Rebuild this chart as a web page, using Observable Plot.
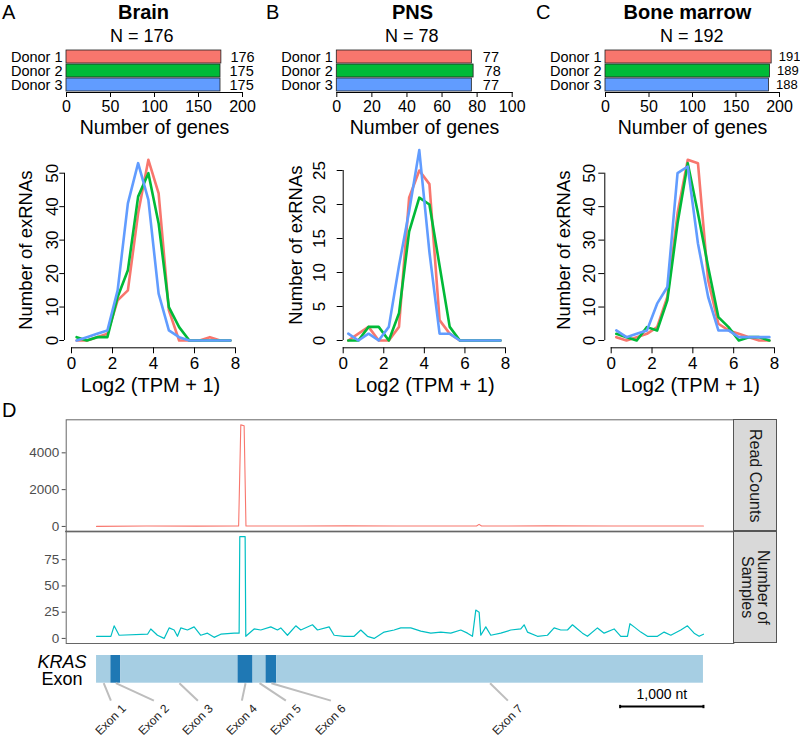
<!DOCTYPE html>
<html><head><meta charset="utf-8">
<script src="https://cdn.jsdelivr.net/npm/d3@7"></script>
<script src="https://cdn.jsdelivr.net/npm/@observablehq/plot@0.6"></script>
<style>
body{margin:0;background:#fff;font-family:"Liberation Sans",Arial,sans-serif;}
#fig{position:relative;width:800px;height:736px;overflow:hidden;background:#fff;}
.abs{position:absolute;}
.lbl{position:absolute;white-space:nowrap;color:#000;}
.strip{position:absolute;box-sizing:border-box;border:1px solid #555;background:#D9D9D9;display:flex;align-items:center;justify-content:center;writing-mode:vertical-rl;font-size:16px;line-height:16px;color:#1a1a1a;text-align:center;}
</style></head><body><div id="fig"></div>
<script>
// ---------- data ----------
const donors = ["Donor 1", "Donor 2", "Donor 3"];
const donorColors = ["#F8766D", "#00BA38", "#619CFF"];
const panelLetters = ["A", "B", "C"];
const tissues = ["Brain", "PNS", "Bone marrow"];
const totalGenes = [176, 78, 192];
const brainGenes = [176, 175, 175];
const pnsGenes = [77, 78, 77];
const boneGenes = [191, 189, 188];
const barTicksBrain = [0, 50, 100, 150, 200];
const barTicksPNS = [0, 20, 40, 60, 80, 100];
const barTicksBone = [0, 50, 100, 150, 200];

const bins = [0.25, 0.75, 1.25, 1.75, 2.25, 2.75, 3.25, 3.75, 4.25, 4.75, 5.25, 5.75, 6.25, 6.75, 7.25, 7.75];
const brainD1 = [0, 0, 1, 2, 12, 15, 38, 54, 44, 9, 0, 0, 0, 1, 0, 0];
const brainD2 = [1, 0, 1, 1, 13, 21, 43, 50, 35, 10, 4, 0, 0, 0, 0, 0];
const brainD3 = [0, 1, 2, 3, 15, 41, 53, 42, 14, 3, 1, 0, 0, 0, 0, 0];
const pnsD1 = [0, 1, 2, 0, 0, 2, 21, 25, 23, 3, 1, 0, 0, 0, 0, 0];
const pnsD2 = [0, 0, 2, 2, 0, 4, 16, 21, 20, 11, 2, 0, 0, 0, 0, 0];
const pnsD3 = [1, 0, 1, 0, 2, 11, 19, 28, 13, 1, 1, 0, 0, 0, 0, 0];
const boneD1 = [1, 0, 1, 2, 4, 13, 38, 54, 53, 18, 5, 3, 2, 1, 0, 0];
const boneD2 = [2, 1, 0, 4, 3, 12, 35, 53, 38, 22, 7, 4, 0, 1, 1, 0];
const boneD3 = [3, 1, 2, 3, 11, 16, 50, 52, 29, 13, 3, 3, 1, 1, 1, 1];
const xTicksTPM = [0, 2, 4, 6, 8];
const yTicksBrain = [0, 10, 20, 30, 40, 50];
const yTicksPNS = [0, 5, 10, 15, 20, 25];
const yTicksBone = [0, 10, 20, 30, 40, 50];

// Panel D: KRAS coverage (position in nt)
const geneLength = 7283;
const readPos = [0, 600, 1200, 1705, 1731, 1771, 1793, 2400, 3000, 3600, 4560, 4590, 4620, 5400, 6200, 7283];
const readCount = [0, 20, 15, 25, 5520, 5470, 25, 20, 30, 25, 20, 110, 20, 30, 25, 20];
const readTicks = [0, 2000, 4000];
const samplePos = [0,172,211,271,612,651,731,811,871,931,971,1011,1091,1171,1251,1331,1411,1491,1651,1711,1719,1783,1791,1891,1971,2091,2171,2211,2291,2391,2451,2591,2651,2791,2851,2971,3091,3171,3251,3331,3451,3571,3651,3771,3891,4011,4131,4251,4371,4451,4511,4551,4591,4611,4671,4731,4851,4971,5091,5131,5171,5291,5411,5491,5571,5651,5711,5771,5831,5891,6011,6091,6211,6291,6371,6401,6451,6531,6611,6731,6811,6891,7011,7091,7171,7231,7283];
const sampleN = [2,2,12,3,4,9,3,0,10,8,2,10,8,11,3,5,1,4,5,5,97,97,2,9,8,11,8,10,3,12,8,13,8,11,3,2,2,8,2,0,6,8,10,10,7,5,6,5,8,5,2,27,25,3,11,3,5,8,9,13,6,2,3,10,8,8,13,9,5,2,10,5,9,2,2,14,11,6,2,2,6,3,8,12,5,2,4];
const sampleTicks = [0, 25, 50, 75];
const exonNames = ["Exon 1", "Exon 2", "Exon 3", "Exon 4", "Exon 5", "Exon 6", "Exon 7"];
const exonStart = [0, 172, 291, 1698, 1878, 2034, 2162];
const exonEnd = [172, 291, 1698, 1878, 2034, 2162, 7283];
const exonLabelAt = [172, 688, 1216, 1744, 2272, 2812, 4936];
const scaleBarNt = 1000;

// ---------- helpers ----------
const FONT = '"Liberation Sans", Arial, Helvetica, sans-serif';
const fig = document.getElementById("fig");
const baseStyle = {background: "transparent", overflow: "visible", fontFamily: FONT, color: "#000"};
function place(node, left, top) {
  const d = document.createElement("div");
  d.className = "abs"; d.style.left = left + "px"; d.style.top = top + "px";
  d.appendChild(node); fig.appendChild(d);
}
function label(text, x, y, {size = 17, weight = "normal", anchor = "middle", italic = false} = {}) {
  const d = document.createElement("div");
  d.className = "lbl"; d.textContent = text;
  d.style.fontSize = size + "px"; d.style.lineHeight = size + "px"; d.style.fontWeight = weight;
  if (italic) d.style.fontStyle = "italic";
  d.style.top = (y - size / 2) + "px";
  if (anchor === "middle") { d.style.left = x + "px"; d.style.transform = "translateX(-50%)"; }
  else d.style.left = x + "px";
  fig.appendChild(d);
}

// ---------- panels A-C ----------
const geneSets = [brainGenes, pnsGenes, boneGenes];
const barTicks = [barTicksBrain, barTicksPNS, barTicksBone];
const lineSeries = [[brainD1, brainD2, brainD3], [pnsD1, pnsD2, pnsD3], [boneD1, boneD2, boneD3]];
const yTicksSets = [yTicksBrain, yTicksPNS, yTicksBone];

const layout = [
  {left: 0, width: 270, bx0: 66, bx1: 242, letterX: 2, titleX: 143.5, nX: 141.7, valSize: 14.5, valDx: 9,
   lw: 260, x0: 71, x8: 235, yAxisX: 64, yTopPx: 172.7, tickSize: 4.7, tickPad: 2, yTitleX: 26},
  {left: 260, width: 270, bx0: 336.3, bx1: 511.7, letterX: 266, titleX: 412.5, nX: 411.7, valSize: 14.5, valDx: 11,
   lw: 270, x0: 342.7, x8: 505, yAxisX: 342.7, yTopPx: 170, tickSize: 6, tickPad: 12, yTitleX: 295.5},
  {left: 520, width: 280, bx0: 605, bx1: 779, letterX: 536, titleX: 687.5, nX: 691.7, valSize: 13, valDx: 7,
   lw: 280, x0: 610.7, x8: 774, yAxisX: 604.3, yTopPx: 172.7, tickSize: 6, tickPad: 4, yTitleX: 564}
];

layout.forEach((L, k) => {
  label(panelLetters[k], L.letterX, 12, {size: 20, anchor: "start"});
  label(tissues[k], L.titleX, 12, {size: 20, weight: "bold"});
  label("N = " + totalGenes[k], L.nX, 35.5, {size: 18});

  // bar chart
  const rows = donors.map((d, i) => ({donor: d, n: geneSets[k][i]}));
  const ticks = barTicks[k];
  const bar = Plot.plot({
    width: L.width, height: 100,
    marginLeft: L.bx0 - L.left, marginRight: L.left + L.width - L.bx1,
    marginTop: 8, marginBottom: 48,
    x: {domain: [0, ticks[ticks.length - 1]]},
    y: {domain: donors, paddingInner: 0.1, paddingOuter: 0.05},
    color: {domain: donors, range: donorColors},
    style: baseStyle,
    marks: [
      Plot.barX(rows, {x: "n", y: "donor", fill: "donor", stroke: "#222", strokeWidth: 0.8}),
      Plot.text(rows, {x: "n", y: "donor", text: d => String(d.n), textAnchor: "start", dx: L.valDx, fontSize: L.valSize, fill: "#000"}),
      Plot.axisY({tickSize: 0, tickPadding: 4, fontSize: 14.5, label: null}),
      Plot.axisX({ticks, tickSize: 5, tickPadding: 3, fontSize: 16, label: null}),
      Plot.frame({anchor: "bottom", stroke: "#000"}),
      Plot.text(["Number of genes"], {frameAnchor: "bottom", text: d => d, dy: 35, lineAnchor: "middle", textAnchor: "middle", fontSize: 19.5, fill: "#000"})
    ]
  });
  place(bar, L.left, 40);

  // frequency line chart
  const series = lineSeries[k];
  const yTicks = yTicksSets[k];
  const yLast = yTicks[yTicks.length - 1];
  const lrows = [];
  series.forEach((s, j) => s.forEach((v, i) => lrows.push({donor: donors[j], bin: bins[i], count: v})));
  const maxV = d3.max(lrows, d => d.count);
  const pxX = (L.x8 - L.x0) / 8;
  const pxY = (340 - L.yTopPx) / yLast;
  const xmin = (L.yAxisX - L.x0) / pxX;
  const xmax = bins[bins.length - 1] + 0.04 * (bins[bins.length - 1] - bins[0]);
  const ymax = maxV * 1.04;
  const ymin = -(347.3 - 340) / pxY;
  const svgTop = 130, svgH = 280;
  const line = Plot.plot({
    width: L.lw, height: svgH,
    marginLeft: L.yAxisX - L.left,
    marginRight: L.left + L.lw - (L.x0 + xmax * pxX),
    marginTop: (340 - ymax * pxY) - svgTop,
    marginBottom: svgTop + svgH - 347.3,
    x: {domain: [xmin, xmax]},
    y: {domain: [ymin, ymax]},
    color: {domain: donors, range: donorColors},
    style: baseStyle,
    marks: [
      Plot.line(lrows, {x: "bin", y: "count", stroke: "donor", z: "donor", strokeWidth: 2.6, strokeLinejoin: "round", strokeLinecap: "round"}),
      Plot.ruleX([xmin], {y1: 0, y2: yLast, stroke: "#000"}),
      Plot.ruleY([ymin], {x1: xTicksTPM[0], x2: xTicksTPM[xTicksTPM.length - 1], stroke: "#000"}),
      Plot.axisY({ticks: yTicks, tickSize: L.tickSize, tickPadding: L.tickPad, tickRotate: -90, fontSize: 17, label: null}),
      Plot.axisX({ticks: xTicksTPM, tickSize: 6, tickPadding: 3, fontSize: 17, label: null}),
      Plot.text(["Log2 (TPM + 1)"], {frameAnchor: "bottom", text: d => d, dy: 38, lineAnchor: "middle", textAnchor: "middle", fontSize: 20, fill: "#000"}),
      Plot.text(["Number of exRNAs"], {frameAnchor: "left", text: d => d, dx: L.yTitleX - L.yAxisX, rotate: -90, textAnchor: "middle", lineAnchor: "middle", fontSize: 18.5, fill: "#000"})
    ]
  });
  place(line, L.left, svgTop);
});

// ---------- panel D ----------
label("D", 2, 410, {size: 20, anchor: "start"});
const xDomD = [-0.05 * geneLength, 1.05 * geneLength];
const dLeft = 65.7, dRight = 733.3, dW = 740;

function expand(vals) { const [a, b] = d3.extent(vals); const e = 0.05 * (b - a); return [a - e, b + e]; }

const readRows = readPos.map((p, i) => ({pos: p, v: readCount[i]}));
const topFacet = Plot.plot({
  width: dW, height: 135, marginLeft: dLeft, marginRight: dW - dRight, marginTop: 19.3, marginBottom: 4,
  x: {domain: xDomD, axis: null}, y: {domain: expand(readCount)},
  style: baseStyle,
  marks: [
    Plot.line(readRows, {x: "pos", y: "v", stroke: "#F8766D", strokeWidth: 1.1}),
    Plot.frame({stroke: "#666"}),
    Plot.frame({anchor: "bottom", stroke: "#333", strokeWidth: 1.6}),
    Plot.axisY({ticks: readTicks, tickFormat: d => String(d), tickSize: 4, tickPadding: 3, fontSize: 13.5, color: "#4D4D4D", label: null})
  ]
});
place(topFacet, 0, 400);

const sampleRows = samplePos.map((p, i) => ({pos: p, v: sampleN[i]}));
const botFacet = Plot.plot({
  width: dW, height: 125, marginLeft: dLeft, marginRight: dW - dRight, marginTop: 6, marginBottom: 7,
  x: {domain: xDomD, axis: null}, y: {domain: expand(sampleN)},
  style: baseStyle,
  marks: [
    Plot.line(sampleRows, {x: "pos", y: "v", stroke: "#00BFC4", strokeWidth: 1.2}),
    Plot.frame({stroke: "#666"}),
    Plot.axisY({ticks: sampleTicks, tickFormat: d => String(d), tickSize: 4, tickPadding: 3, fontSize: 13.5, color: "#4D4D4D", label: null})
  ]
});
place(botFacet, 0, 525);

// facet strips
const s1 = document.createElement("div");
s1.className = "strip"; s1.textContent = "Read Counts";
Object.assign(s1.style, {left: "733px", top: "419.3px", width: "43.7px", height: "112px"});
fig.appendChild(s1);
const s2 = document.createElement("div");
s2.className = "strip"; s2.innerHTML = "Number of<br>Samples";
Object.assign(s2.style, {left: "733px", top: "531px", width: "43.7px", height: "112px"});
fig.appendChild(s2);

// exon track
const exons = exonNames.map((n, i) => ({name: n, start: exonStart[i], end: exonEnd[i], mid: (exonStart[i] + exonEnd[i]) / 2, at: exonLabelAt[i], odd: i % 2 === 0}));
const sbStart = geneLength - scaleBarNt, sbEnd = geneLength;
const exonPlot = Plot.plot({
  width: dW, height: 91, marginLeft: dLeft, marginRight: dW - dRight, marginTop: 10, marginBottom: 53.3,
  x: {domain: xDomD, axis: null}, y: {domain: [0, 1], axis: null},
  style: baseStyle,
  marks: [
    Plot.rect(exons, {x1: "start", x2: "end", y1: 0, y2: 1, fill: d => d.odd ? "#A6CEE3" : "#1F78B4"}),
    Plot.link(exons, {x1: "mid", y1: 0, x2: "at", y2: -0.63, stroke: "#BDBDBD", strokeWidth: 2}),
    Plot.text(exons, {x: "at", y: -0.63, text: "name", rotate: -45, textAnchor: "end", lineAnchor: "middle", dx: 13, dy: 6, fontSize: 12, fill: "#222"}),
    Plot.link([0], {x1: sbStart, x2: sbEnd, y1: -0.84, y2: -0.84, stroke: "#000", strokeWidth: 2}),
    Plot.ruleX([sbStart, sbEnd], {y1: -0.92, y2: -0.80, stroke: "#000", strokeWidth: 2}),
    Plot.text(["1,000 nt"], {x: (sbStart + sbEnd) / 2, y: -0.84, text: d => d, dy: -12, fontSize: 14, fill: "#000"})
  ]
});
place(exonPlot, 0, 645);
label("KRAS", 62, 661.7, {size: 18, italic: true});
label("Exon", 62, 679.3, {size: 18});
</script>
</body></html>
